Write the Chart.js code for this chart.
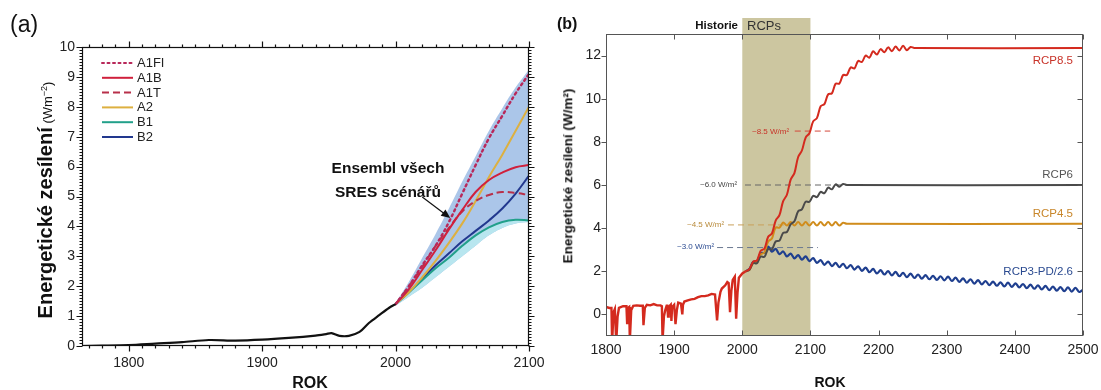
<!DOCTYPE html>
<html><head><meta charset="utf-8">
<script src="https://cdn.jsdelivr.net/npm/chart.js@4.4.1/dist/chart.umd.min.js"></script>
<style>
html,body{margin:0;padding:0;background:#fff;width:1101px;height:390px;overflow:hidden;font-family:"Liberation Sans",Arial,sans-serif;}
#wrap{position:relative;width:1101px;height:390px;}
canvas{position:absolute;top:0;}
.t{position:absolute;white-space:nowrap;line-height:1;color:#111;}
.rot{position:absolute;white-space:nowrap;line-height:1;color:#111;transform:translate(-50%,-50%) rotate(-90deg);}
.c{transform:translateX(-50%);text-align:center;}
</style></head><body>
<div id="wrap">
<canvas id="ca" width="560" height="390" style="left:0"></canvas>
<canvas id="cb" width="561" height="390" style="left:540px"></canvas>

<div class="t" style="left:10px;top:13px;font-size:23px;">(a)</div>
<div class="rot" style="left:45px;top:200px;"><span style="font-weight:bold;font-size:20px;">Energetické zesílení</span><span style="font-size:13px;"> (Wm<sup style="font-size:9px;">−2</sup>)</span></div>
<div class="t c" style="left:310px;top:375px;font-size:16px;font-weight:bold;">ROK</div>
<div class="t c" style="left:388px;top:156px;font-size:15.5px;font-weight:bold;line-height:24px;">Ensembl všech<br>SRES scénářů</div>

<div class="t" style="left:557px;top:16px;font-size:16px;font-weight:bold;">(b)</div>
<div class="t" style="right:363px;top:20px;font-size:11.5px;font-weight:bold;">Historie</div>
<div class="t" style="left:747px;top:19px;font-size:13px;color:#333;">RCPs</div>
<div class="rot" style="left:568px;top:176px;font-size:13.5px;font-weight:bold;">Energetické zesílení (W/m²)</div>
<div class="t c" style="left:830px;top:375px;font-size:14px;font-weight:bold;">ROK</div>

<div class="t" style="right:28px;top:55px;font-size:11.5px;color:#c83228;">RCP8.5</div>
<div class="t" style="right:28px;top:169px;font-size:11.5px;color:#555;">RCP6</div>
<div class="t" style="right:28px;top:208px;font-size:11.5px;color:#c8862a;">RCP4.5</div>
<div class="t" style="right:28px;top:266px;font-size:11.5px;color:#2a4a90;">RCP3-PD/2.6</div>

<div class="t" style="left:752px;top:128px;font-size:8px;color:#c83228;">~8.5 W/m²</div>
<div class="t" style="left:700px;top:181px;font-size:8px;color:#444;">~6.0 W/m²</div>
<div class="t" style="left:687px;top:221px;font-size:8px;color:#b88a3a;">~4.5 W/m²</div>
<div class="t" style="left:677px;top:243px;font-size:8px;color:#2a4a90;">~3.0 W/m²</div>
</div>

<script>
// ================= Panel (a) data =================
const aXTicks = [1800, 1900, 2000, 2100];
const aYTicks = [0, 1, 2, 3, 4, 5, 6, 7, 8, 9, 10];
const aHistYears  = [1765, 1780, 1800, 1820, 1840, 1860, 1880, 1900, 1920, 1940, 1948, 1952, 1958, 1965, 1973, 1980, 1988, 1995, 2000];
const aHistValues = [0.0, 0.01, 0.03, 0.08, 0.13, 0.2, 0.18, 0.21, 0.27, 0.35, 0.4, 0.43, 0.34, 0.34, 0.47, 0.77, 1.04, 1.27, 1.4];
const aScenYears = [2000, 2010, 2020, 2030, 2040, 2050, 2060, 2070, 2080, 2090, 2100];
const a1fiValues = [1.4, 2.0, 2.7, 3.35, 4.15, 5.1, 6.05, 6.95, 7.7, 8.45, 9.1];
const a1bValues  = [1.4, 1.9, 2.55, 3.2, 3.9, 4.55, 5.15, 5.55, 5.8, 5.98, 6.05];
const a1tValues  = [1.4, 2.0, 2.65, 3.35, 3.95, 4.5, 4.85, 5.05, 5.15, 5.12, 5.05];
const a2Values   = [1.4, 1.8, 2.3, 2.85, 3.45, 4.1, 4.85, 5.65, 6.4, 7.2, 8.0];
const b1Values   = [1.4, 1.8, 2.2, 2.6, 2.95, 3.35, 3.7, 3.97, 4.15, 4.22, 4.2];
const b2Values   = [1.4, 1.8, 2.25, 2.7, 3.1, 3.5, 3.85, 4.2, 4.6, 5.1, 5.7];
const ensUpperValues = [1.45, 2.15, 2.95, 3.75, 4.6, 5.5, 6.35, 7.2, 7.95, 8.65, 9.25];
const ensLowerValues = [1.35, 1.65, 1.95, 2.3, 2.65, 3.0, 3.35, 3.7, 3.95, 4.1, 4.15];
const arrowFrom = [2020, 4.98];
const arrowTo   = [2041, 4.28];

// ================= Panel (b) data =================
const bXTicks = [1800, 1900, 2000, 2100, 2200, 2300, 2400, 2500];
const bYTicks = [0, 2, 4, 6, 8, 10, 12];
const bHistYears = [1800,1805,1808,1809,1811,1813,1815,1817,1819,1825,1830,1831,1832,1834,1835,1837,1840,1845,1850,1854,1855,1857,1860,1865,1870,1875,1880,1882,1883,1885,1887,1889,1890,1891,1892,1895,1896,1897,1900,1902,1904,1906,1910,1912,1913,1915,1920,1925,1930,1935,1940,1945,1950,1955,1960,1963,1965,1968,1970,1975,1978,1980,1982,1984,1986,1989,1991,1993,1995,2000,2005];
const bHistValues = [0.35,0.3,0.3,-1.3,0.1,0.25,-1.3,-0.1,0.3,0.38,0.38,-0.4,0.3,0.35,-1.2,0.2,0.4,0.42,0.4,0.4,-0.5,0.3,0.45,0.42,0.48,0.42,0.42,0.38,-1.2,-0.1,0.2,0.4,0.4,-0.1,0.35,0.45,-0.3,0.35,0.45,-0.45,0.2,0.55,0.5,0.0,0.45,0.6,0.65,0.7,0.72,0.8,0.85,0.85,0.88,0.95,0.92,-0.28,0.55,1.05,1.2,1.35,1.5,1.45,0.1,1.1,1.6,1.75,-0.2,1.0,1.7,1.9,2.0];
const projYears = [2005,2010.5,2016,2021.5,2027,2032.5,2038,2043.5,2049,2054.5,
  2060,2065.5,2071,2076.5,2082,2087.5,2093,2098.5,2104,2109.5,
  2115,2120.5,2126,2131.5,2137,2142.5,2148,2153.5,2159,2164.5,
  2170,2175.5,2181,2186.5,2192,2197.5,2203,2208.5,2214,2219.5,
  2225,2230.5,2236,2241.5,2247,2252.5,2258,2263.5,2269,2274.5,
  2280,2285.5,2291,2296.5,2302,2307.5,2313,2318.5,2324,2329.5,
  2335,2340.5,2346,2351.5,2357,2362.5,2368,2373.5,2379,2384.5,
  2390,2395.5,2401,2406.5,2412,2417.5,2423,2428.5,2434,2439.5,
  2445,2450.5,2456,2461.5,2467,2472.5,2478,2483.5,2489,2494.5,2500];
const rcp85Values = [2.0,2.1,2.45,2.5,2.95,3.05,3.6,3.75,4.35,4.6,5.25,5.55,6.25,6.55,7.3,7.6,8.2,8.4,8.95,9.1,9.65,9.75,10.2,10.25,10.7,10.7,11.1,11.1,11.45,11.4,11.75,11.7,12.0,11.9,12.2,12.05,12.3,12.15,12.38,12.2,12.42,12.24,12.45,12.25,12.4,12.35];
const rcp85End = 12.35;
const rcp6Values = [2.0,2.07,2.38,2.37,2.68,2.67,3.03,3.02,3.38,3.42,3.78,3.82,4.18,4.32,4.78,4.87,5.23,5.22,5.5,5.44,5.68,5.62,5.88,5.8,6.03,5.92,6.05,6.0];
const rcp6End = 6.0;
const rcp45Values = [2.0,2.07,2.38,2.42,2.78,2.87,3.38,3.52,4.03,4.02,4.26,4.12,4.28,4.12,4.28,4.12,4.28,4.12,4.28,4.12,4.28,4.12,4.28,4.12,4.28,4.12,4.25,4.2];
const rcp45End = 4.2;
const rcp3Values = [2.0,2.11,2.44,2.46,2.84,2.86,3.14,2.91,3.04,2.79,
  2.92,2.69,2.82,2.6,2.75,2.54,2.69,2.47,2.61,2.39,
  2.52,2.3,2.45,2.24,2.39,2.19,2.35,2.14,2.29,2.08,
  2.23,2.02,2.17,1.96,2.11,1.9,2.05,1.85,2.01,1.81,
  1.97,1.77,1.93,1.73,1.89,1.69,1.85,1.66,1.82,1.63,
  1.79,1.6,1.77,1.58,1.75,1.55,1.71,1.51,1.67,1.47,
  1.63,1.43,1.59,1.39,1.55,1.36,1.52,1.33,1.49,1.3,
  1.47,1.28,1.44,1.25,1.41,1.22,1.38,1.19,1.35,1.16,
  1.32,1.13,1.29,1.1,1.27,1.08,1.25,1.06,1.23,1.04,1.15];
const endYear = 2500;
const ref85Years = [2077, 2129], ref85Values = [8.5, 8.5];
const ref6Years  = [2004, 2158], ref6Values  = [6.0, 6.0];
const ref45Years = [1979, 2063], ref45Values = [4.15, 4.15];
const ref30Years = [1963, 2111], ref30Values = [3.1, 3.1];
const rcpBandYears = [2000, 2100];

// ================= helpers =================
const FONT = "'Liberation Sans', Arial, sans-serif";
Chart.defaults.font.family = FONT;
const pts = (xs, ys) => ys.map((y, i) => ({x: xs[i], y}));
const withEnd = (vals, end) => pts(projYears, vals).concat([{x: endYear, y: end}]);
const setTicks = arr => s => { s.ticks = arr.map(v => ({value: v})); };
const plain = v => String(v);

function framePlugin(cfg) {
  return {
    id: 'frame_' + cfg.name,
    afterDraw(chart) {
      const {ctx, chartArea: a} = chart;
      const x = chart.scales.x, y = chart.scales.y;
      ctx.save();
      ctx.strokeStyle = cfg.color; ctx.lineWidth = cfg.lw;
      const L = Math.round(a.left) + 0.5, R = Math.round(a.right) - 0.5;
      const T = Math.round(a.top) + 0.5, B = Math.round(a.bottom) - 0.5;
      ctx.strokeRect(L, T, R - L, B - T);
      ctx.beginPath();
      const tickX = (v, len) => {
        const px = Math.round(x.getPixelForValue(v)) + 0.5;
        ctx.moveTo(px, B); ctx.lineTo(px, B + cfg.dir.bottom * len);
        ctx.moveTo(px, T); ctx.lineTo(px, T - cfg.dir.top * len);
      };
      const tickY = (v, len) => {
        const py = Math.round(y.getPixelForValue(v)) + 0.5;
        ctx.moveTo(L, py); ctx.lineTo(L - cfg.dir.left * len, py);
        ctx.moveTo(R, py); ctx.lineTo(R + cfg.dir.right * len, py);
      };
      x.ticks.forEach(t => tickX(t.value, cfg.major));
      y.ticks.forEach(t => tickY(t.value, cfg.major));
      if (cfg.minorX) {
        for (let v = Math.ceil(x.min / cfg.minorX) * cfg.minorX; v <= x.max + 1e-6; v += cfg.minorX) tickX(v, cfg.minor);
      }
      if (cfg.minorY) {
        for (let k = Math.ceil(y.min / cfg.minorY); k * cfg.minorY <= y.max + 1e-6; k++) tickY(k * cfg.minorY, cfg.minor);
      }
      ctx.stroke();
      ctx.restore();
    }
  };
}

// legend for panel (a)
const legendA = {
  id: 'legendA',
  afterDraw(chart) {
    const {ctx, chartArea: a} = chart;
    ctx.save();
    let i = 0;
    chart.data.datasets.forEach(ds => {
      if (!ds.inLegend) return;
      const yy = a.top + 16 + i * 14.8;
      ctx.strokeStyle = ds.borderColor; ctx.lineWidth = 2;
      ctx.setLineDash(ds.borderDash || []);
      ctx.lineCap = ds.borderCapStyle || 'butt';
      ctx.beginPath(); ctx.moveTo(a.left + 20, yy); ctx.lineTo(a.left + 51, yy); ctx.stroke();
      ctx.setLineDash([]);
      ctx.fillStyle = '#222'; ctx.font = '13px ' + FONT; ctx.textBaseline = 'middle';
      ctx.fillText(ds.label, a.left + 55, yy + 0.5);
      i++;
    });
    ctx.restore();
  }
};

// arrow for panel (a)
const arrowA = {
  id: 'arrowA',
  afterDatasetsDraw(chart) {
    const {ctx} = chart; const x = chart.scales.x, y = chart.scales.y;
    const x1 = x.getPixelForValue(arrowFrom[0]), y1 = y.getPixelForValue(arrowFrom[1]);
    const x2 = x.getPixelForValue(arrowTo[0]), y2 = y.getPixelForValue(arrowTo[1]);
    const ang = Math.atan2(y2 - y1, x2 - x1);
    ctx.save();
    ctx.strokeStyle = '#111'; ctx.fillStyle = '#111'; ctx.lineWidth = 1.2;
    ctx.beginPath(); ctx.moveTo(x1, y1); ctx.lineTo(x2 - 6 * Math.cos(ang), y2 - 6 * Math.sin(ang)); ctx.stroke();
    ctx.beginPath();
    ctx.moveTo(x2, y2);
    ctx.lineTo(x2 - 9 * Math.cos(ang) + 4 * Math.sin(ang), y2 - 9 * Math.sin(ang) - 4 * Math.cos(ang));
    ctx.lineTo(x2 - 9 * Math.cos(ang) - 4 * Math.sin(ang), y2 - 9 * Math.sin(ang) + 4 * Math.cos(ang));
    ctx.closePath(); ctx.fill();
    ctx.restore();
  }
};

// RCP band for panel (b)
const bandB = {
  id: 'bandB',
  beforeDatasetsDraw(chart) {
    const {ctx, chartArea: a} = chart; const x = chart.scales.x;
    const x1 = x.getPixelForValue(rcpBandYears[0]), x2 = x.getPixelForValue(rcpBandYears[1]);
    ctx.save();
    ctx.fillStyle = '#ccc6a0';
    ctx.fillRect(x1, a.top - 16, x2 - x1, a.bottom - a.top + 16);
    ctx.restore();
  }
};

const lineDs = (label, data, color, extra) => Object.assign({
  label, data, borderColor: color, backgroundColor: color, borderWidth: 2,
  pointRadius: 0, tension: 0.4, fill: false
}, extra || {});

// ================= Chart (a) =================
new Chart(document.getElementById('ca'), {
  type: 'line',
  data: {
    datasets: [
      lineDs('hist', pts(aHistYears, aHistValues), '#111', {borderWidth: 2.2, tension: 0.3}),
      lineDs('A1FI', pts(aScenYears, a1fiValues), '#b8285a', {borderDash: [2, 3.5], borderCapStyle: 'round', borderWidth: 2.4, inLegend: true}),
      lineDs('A1B', pts(aScenYears, a1bValues), '#d0203c', {inLegend: true}),
      lineDs('A1T', pts(aScenYears, a1tValues), '#b8304a', {borderDash: [7, 4], inLegend: true}),
      lineDs('A2', pts(aScenYears, a2Values), '#ddb040', {inLegend: true}),
      lineDs('B1', pts(aScenYears, b1Values), '#22a08a', {inLegend: true}),
      lineDs('B2', pts(aScenYears, b2Values), '#22388e', {inLegend: true}),
      lineDs('cyan', pts(aScenYears, b1Values), 'rgba(0,0,0,0)', {borderWidth: 0, fill: 9, backgroundColor: '#b8e6ef'}),
      lineDs('ensUpper', pts(aScenYears, ensUpperValues), 'rgba(0,0,0,0)', {borderWidth: 0, fill: 9, backgroundColor: '#abc6e9'}),
      lineDs('ensLower', pts(aScenYears, ensLowerValues), 'rgba(0,0,0,0)', {borderWidth: 0})
    ]
  },
  options: {
    responsive: false, animation: false, devicePixelRatio: 1,
    layout: {padding: {top: 47, right: 31, left: 0, bottom: 0}},
    plugins: {legend: {display: false}, tooltip: {enabled: false}},
    scales: {
      x: {type: 'linear', min: 1765, max: 2100, afterBuildTicks: setTicks(aXTicks),
          afterFit: s => { s.height = 44; s.paddingLeft = 0; s.paddingRight = 0; },
          grid: {display: false, drawTicks: false}, border: {display: false},
          ticks: {padding: 9, font: {size: 14}, color: '#222', maxRotation: 0, autoSkip: false, callback: plain}},
      y: {type: 'linear', min: 0, max: 10, afterBuildTicks: setTicks(aYTicks),
          afterFit: s => { s.width = 82; s.paddingTop = 0; s.paddingBottom = 0; },
          grid: {display: false, drawTicks: false}, border: {display: false},
          ticks: {padding: 7, font: {size: 14}, color: '#222', autoSkip: false, callback: plain}}
    }
  },
  plugins: [framePlugin({name: 'a', color: '#111', lw: 1.2, major: 6, minor: 3, minorX: 10, minorY: 0.1,
    dir: {bottom: 1, top: 1, left: 1, right: 1}}), legendA, arrowA]
});

// ================= Chart (b) =================
new Chart(document.getElementById('cb'), {
  type: 'line',
  data: {
    datasets: [
      lineDs('RCP8.5', withEnd(rcp85Values, rcp85End), '#d42a1e', {tension: 0.35}),
      lineDs('historie', pts(bHistYears, bHistValues), '#d42a1e', {tension: 0, borderWidth: 2.4}),
      lineDs('RCP6', withEnd(rcp6Values, rcp6End), '#4a4a4a', {tension: 0.35}),
      lineDs('RCP4.5', withEnd(rcp45Values, rcp45End), '#d08c1c', {tension: 0.35}),
      lineDs('RCP3-PD/2.6', withEnd(rcp3Values, rcp3Values[rcp3Values.length - 1]), '#1f3f8f', {tension: 0.35, borderWidth: 2.2}),
      lineDs('ref85', pts(ref85Years, ref85Values), '#d4483a', {borderWidth: 1, borderDash: [6, 4], tension: 0}),
      lineDs('ref6', pts(ref6Years, ref6Values), '#666', {borderWidth: 1, borderDash: [6, 4], tension: 0}),
      lineDs('ref45', pts(ref45Years, ref45Values), '#c9a05a', {borderWidth: 1, borderDash: [6, 4], tension: 0}),
      lineDs('ref30', pts(ref30Years, ref30Values), '#6a7890', {borderWidth: 1, borderDash: [6, 4], tension: 0})
    ]
  },
  options: {
    responsive: false, animation: false, devicePixelRatio: 1,
    layout: {padding: {top: 34, right: 18, left: 0, bottom: 0}},
    plugins: {legend: {display: false}, tooltip: {enabled: false}},
    scales: {
      x: {type: 'linear', min: 1800, max: 2500, afterBuildTicks: setTicks(bXTicks),
          afterFit: s => { s.height = 54; s.paddingLeft = 0; s.paddingRight = 0; },
          grid: {display: false, drawTicks: false}, border: {display: false},
          ticks: {padding: 6, font: {size: 14}, color: '#222', maxRotation: 0, autoSkip: false, callback: plain}},
      y: {type: 'linear', min: -1, max: 13, afterBuildTicks: setTicks(bYTicks),
          afterFit: s => { s.width = 66; s.paddingTop = 0; s.paddingBottom = 0; },
          grid: {display: false, drawTicks: false}, border: {display: false},
          ticks: {padding: 5, font: {size: 14}, color: '#222', autoSkip: false, callback: plain}}
    }
  },
  plugins: [bandB, framePlugin({name: 'b', color: '#555', lw: 1, major: 5, minor: 0,
    dir: {bottom: -1, top: -1, left: 1, right: -1}})]
});
</script>
</body></html>
